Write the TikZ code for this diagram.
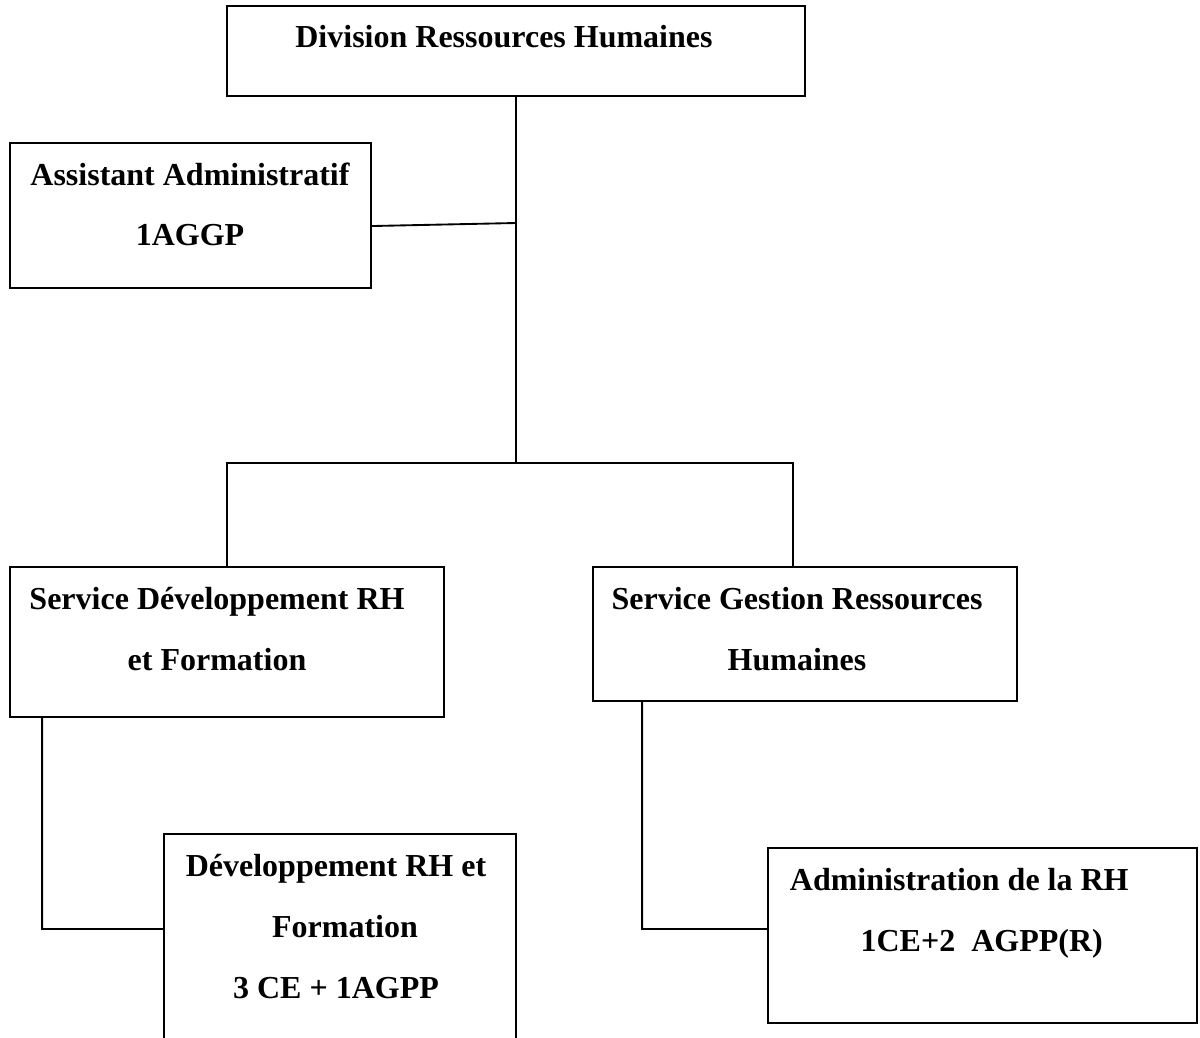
\documentclass[tikz,border=0pt]{standalone}
\usepackage{fontspec}
\setmainfont{Liberation Serif}
\usetikzlibrary{positioning}

\begin{document}
\begin{tikzpicture}[x=0.75pt,y=-0.75pt,line width=1.4pt,
    box/.style={draw,inner sep=0pt},
    lbl/.style={inner sep=0pt,align=center,font=\bfseries\fontsize{24}{45.75}\selectfont}]

\clip (0,0) rectangle (1200,1038);

\node [box,minimum width=433.5pt,minimum height=67.5pt] (dir) at (516,51) {};
\node [box,minimum width=270.75pt,minimum height=108.75pt] (asst) at (190.5,215.5) {};
\node [box,minimum width=325.5pt,minimum height=112.5pt] (sdev) at (227,642) {};
\node [box,minimum width=318pt,minimum height=100.5pt] (sges) at (805,634) {};
\node [box,minimum width=264pt,minimum height=169.5pt] (fdev) at (340,947) {};
\node [box,minimum width=321.75pt,minimum height=131.25pt] (adm) at (982.5,935.5) {};

% base = baseline of the last line
\node [lbl,anchor=base] (tdir) at (504,48) {Division Ressources Humaines};
\node [lbl,anchor=base] (tasst) at (190,246) {Assistant Administratif\\1AGGP};
\node [lbl,anchor=base] (tsdev) at (217,670) {Service Développement RH\\et Formation};
\node [lbl,anchor=base] (tsges) at (797,670) {Service Gestion Ressources\\Humaines};
\node [lbl,anchor=base] (tfdev) at (336,998) {Développement RH et\\\hspace*{13.5pt}Formation\\3 CE + 1AGPP};
\node [lbl,anchor=base west,align=left] (tadm) at (789,951) {Administration de la RH\\\hspace*{53pt}1CE+2\ \ AGPP(R)};

\coordinate (side) at (516,223);
\coordinate (bus) at (516,463);

\path [draw]
    (dir.south) -- (bus)
    ([yshift=-7.9pt]asst.east) -- (side)
    (sdev.north) |- (bus) -| ([xshift=-9pt]sges.north)
    ([xshift=24.75pt]sdev.south west) |- ([yshift=13.5pt]fdev.west)
    ([xshift=37.5pt]sges.south west) |- ([yshift=4.9pt]adm.west)
;

\end{tikzpicture}
\end{document}
